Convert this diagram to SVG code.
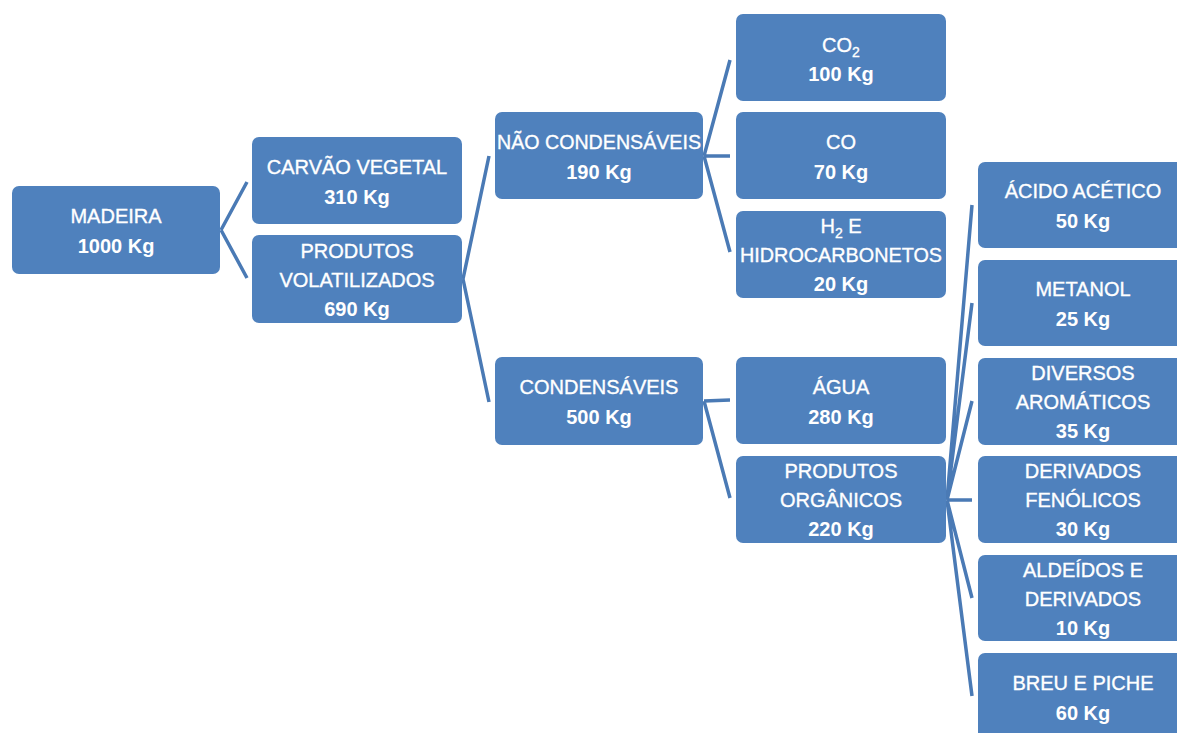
<svg xmlns="http://www.w3.org/2000/svg" width="1177" height="733" viewBox="0 0 1177 733">
<style>
.box{fill:#4F81BD;}
.c{stroke:#4A7AB5;stroke-width:3.5;fill:none;stroke-linecap:butt;}
text{font-family:"Liberation Sans",Arial,sans-serif;font-size:20px;fill:#FFFFFF;text-anchor:middle;stroke:#FFFFFF;stroke-width:0.35;}
.n{font-weight:bold;stroke-width:0;}
.s{font-size:14px;}
</style>
<rect width="1177" height="733" fill="#FFFFFF"/>
<g id="connectors">
<path class="c" d="M221,230 L247,182 M221,230 L247,278"/>
<path class="c" d="M463,279 L489,156 M463,279 L489,402"/>
<path class="c" d="M704,156 L730,60 M704,156 L730,156 M704,156 L730,252"/>
<path class="c" d="M704,401 L730,400 M704,401 L730,498"/>
<path class="c" d="M947,500 L972,205 M947,500 L972,303 M947,500 L972,401 M947,500 L972,500 M947,500 L972,598 M947,500 L972,696"/>
</g>
<g id="madeira"><rect class="box" x="12" y="186" width="208" height="88" rx="7"/>
<text x="116" y="223">MADEIRA</text><text class="n" x="116" y="253">1000 Kg</text></g>
<g id="carvao"><rect class="box" x="252" y="137" width="210" height="87" rx="7"/>
<text x="357" y="174">CARVÃO VEGETAL</text><text class="n" x="357" y="204">310 Kg</text></g>
<g id="volatilizados"><rect class="box" x="252" y="235" width="210" height="88" rx="7"/>
<text x="357" y="258">PRODUTOS</text><text x="357" y="287">VOLATILIZADOS</text><text class="n" x="357" y="316">690 Kg</text></g>
<g id="nao-condensaveis"><rect class="box" x="495" y="112" width="208" height="87" rx="7"/>
<text x="599" y="149" textLength="204" lengthAdjust="spacingAndGlyphs">NÃO CONDENSÁVEIS</text><text class="n" x="599" y="179">190 Kg</text></g>
<g id="condensaveis"><rect class="box" x="495" y="357" width="208" height="88" rx="7"/>
<text x="599" y="394">CONDENSÁVEIS</text><text class="n" x="599" y="424">500 Kg</text></g>
<g id="co2"><rect class="box" x="736" y="14" width="210" height="87" rx="7"/>
<text x="841" y="52">CO<tspan class="s" dy="5">2</tspan></text><text class="n" x="841" y="81">100 Kg</text></g>
<g id="co"><rect class="box" x="736" y="112" width="210" height="87" rx="7"/>
<text x="841" y="149">CO</text><text class="n" x="841" y="179">70 Kg</text></g>
<g id="h2"><rect class="box" x="736" y="211" width="210" height="87" rx="7"/>
<text x="841" y="233">H<tspan class="s" dy="5">2</tspan><tspan dy="-5"> E</tspan></text><text x="841" y="262" textLength="202" lengthAdjust="spacingAndGlyphs">HIDROCARBONETOS</text><text class="n" x="841" y="291">20 Kg</text></g>
<g id="agua"><rect class="box" x="736" y="357" width="210" height="87" rx="7"/>
<text x="841" y="394">ÁGUA</text><text class="n" x="841" y="424">280 Kg</text></g>
<g id="organicos"><rect class="box" x="736" y="456" width="210" height="87" rx="7"/>
<text x="841" y="478">PRODUTOS</text><text x="841" y="507">ORGÂNICOS</text><text class="n" x="841" y="536">220 Kg</text></g>
<g id="acido"><rect class="box" x="978" y="162" width="210" height="86" rx="7"/>
<text x="1083" y="198">ÁCIDO ACÉTICO</text><text class="n" x="1083" y="228">50 Kg</text></g>
<g id="metanol"><rect class="box" x="978" y="260" width="210" height="86" rx="7"/>
<text x="1083" y="296">METANOL</text><text class="n" x="1083" y="326">25 Kg</text></g>
<g id="aromaticos"><rect class="box" x="978" y="358" width="210" height="87" rx="7"/>
<text x="1083" y="380">DIVERSOS</text><text x="1083" y="409">AROMÁTICOS</text><text class="n" x="1083" y="438">35 Kg</text></g>
<g id="fenolicos"><rect class="box" x="978" y="456" width="210" height="87" rx="7"/>
<text x="1083" y="478">DERIVADOS</text><text x="1083" y="507">FENÓLICOS</text><text class="n" x="1083" y="536">30 Kg</text></g>
<g id="aldeidos"><rect class="box" x="978" y="555" width="210" height="86" rx="7"/>
<text x="1083" y="577">ALDEÍDOS E</text><text x="1083" y="606">DERIVADOS</text><text class="n" x="1083" y="635">10 Kg</text></g>
<g id="breu"><rect class="box" x="978" y="653" width="210" height="87" rx="7"/>
<text x="1083" y="690">BREU E PICHE</text><text class="n" x="1083" y="720">60 Kg</text></g>
</svg>
